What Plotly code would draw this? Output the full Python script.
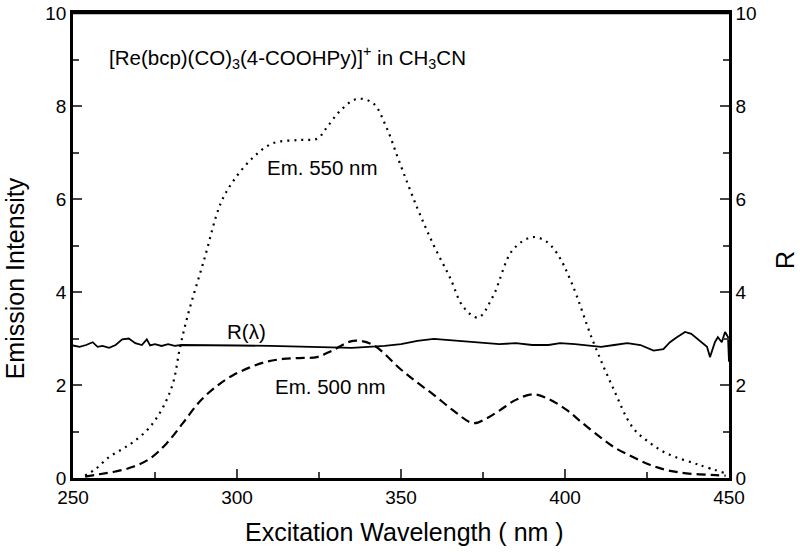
import plotly.graph_objects as go

# Em. 550 nm (dotted)
em550_x = [253.7, 257, 261, 265, 268.5, 273.5, 277.5, 280.5, 282.6, 285, 290, 295, 299, 305, 311, 319,
           324.5, 327.5, 331.5, 336.5, 341.5, 345.5, 349.5, 355, 360, 365, 369, 373.5, 378, 384, 390,
           394, 397.5, 402, 408.5, 414.5, 420.5, 425, 431, 441, 449]
em550_y = [0.05, 0.2, 0.45, 0.62, 0.78, 1.1, 1.53, 2.04, 2.8, 3.5, 4.7, 5.9, 6.4, 6.9, 7.2, 7.27,
           7.3, 7.55, 7.9, 8.15, 8.06, 7.55, 6.8, 5.8, 5.0, 4.3, 3.68, 3.45, 3.9, 4.9, 5.18,
           5.1, 4.84, 4.2, 2.95, 1.96, 1.1, 0.8, 0.53, 0.28, 0.1]

# Em. 500 nm (dashed)
em500_x = [253.7, 258, 263, 268.3, 273.5, 278.6, 283.5, 288.7, 293.9, 298.8, 304, 309, 314, 319, 324.4,
           329.3, 335.4, 341.5, 349.7, 355, 359.8, 366, 372, 376, 380.2, 385, 390.2, 395, 400.6, 405,
           410.7, 415, 420.7, 426, 431, 437, 446, 449]
em500_y = [0.03, 0.08, 0.14, 0.24, 0.42, 0.75, 1.18, 1.65, 1.98, 2.21, 2.38, 2.5, 2.56, 2.58, 2.6,
           2.75, 2.95, 2.86, 2.35, 2.05, 1.8, 1.45, 1.18, 1.28, 1.46, 1.68, 1.8, 1.7, 1.46, 1.2,
           0.88, 0.66, 0.45, 0.28, 0.17, 0.1, 0.06, 0.05]

# R(lambda) (solid, right axis)
r_x = [250, 252, 254, 256, 257.5, 259, 261, 263, 265, 267, 269, 271, 272.5, 273.5, 275, 277, 279, 281,
       283, 290, 300, 310, 320, 330, 335, 340, 345, 350, 355, 360, 365, 370, 375, 380, 385, 390, 395,
       398.5, 403, 408, 411, 415, 419, 423, 427, 430, 432, 434, 436.6, 438.5, 440.2, 442, 443.3, 444.2,
       445, 445.7, 446.6, 447.3, 447.8, 448.8, 449.3, 449.7, 450]
r_y = [2.85, 2.82, 2.86, 2.92, 2.82, 2.84, 2.8, 2.86, 2.98, 3.0, 2.9, 2.86, 2.98, 2.85, 2.88, 2.84, 2.88, 2.84,
       2.86, 2.86, 2.85, 2.84, 2.82, 2.8, 2.8, 2.82, 2.84, 2.88, 2.95, 2.99, 2.96, 2.93, 2.9, 2.88, 2.9, 2.86, 2.86,
       2.9, 2.88, 2.84, 2.82, 2.86, 2.9, 2.86, 2.74, 2.77, 2.92, 3.02, 3.14, 3.1, 3.0, 2.9, 2.82, 2.6,
       2.75, 2.92, 3.03, 2.95, 2.92, 3.14, 3.08, 3.03, 2.5]

x_ticks = [250, 300, 350, 400, 450]
y_ticks = [0, 2, 4, 6, 8, 10]

FONT = "Liberation Sans, Arial, sans-serif"

fig = go.Figure()
fig.add_trace(go.Scatter(x=em550_x, y=em550_y, mode="lines", line=dict(color="black", width=2.2, dash="2px,5px", shape="spline"), showlegend=False))
fig.add_trace(go.Scatter(x=em500_x, y=em500_y, mode="lines", line=dict(color="black", width=2.2, dash="9px,5px", shape="spline"), showlegend=False))
fig.add_trace(go.Scatter(x=r_x, y=r_y, mode="lines", yaxis="y2", line=dict(color="black", width=1.8), showlegend=False))

annos = [
    dict(x=261.3, y=9.05, xanchor="left", text="[Re(bcp)(CO)<sub>3</sub>(4-COOHPy)]<sup>+</sup> in CH<sub>3</sub>CN", size=20.5),
    dict(x=326.2, y=6.67, xanchor="center", text="Em. 550 nm", size=20.5),
    dict(x=303, y=3.14, xanchor="center", text="R(λ)", size=20.5),
    dict(x=328.4, y=1.96, xanchor="center", text="Em. 500 nm", size=20.5),
]
for a in annos:
    fig.add_annotation(x=a["x"], y=a["y"], xref="x", yref="y", text=a["text"], showarrow=False,
                       xanchor=a["xanchor"], yanchor="middle", borderpad=0, xshift=-2 if a["xanchor"] == "left" else 0,
                       font=dict(family=FONT, size=a["size"], color="black"))

# axis titles placed as annotations (paper coords) to match the reference's off-centre placement
titles = [
    dict(x=-0.088, y=0.43, text="Emission Intensity", angle=-90),
    dict(x=1.0854, y=0.469, text="R", angle=-90),
    dict(x=0.506, y=-0.116, text="Excitation Wavelength ( nm )", angle=0),
]
for t in titles:
    fig.add_annotation(x=t["x"], y=t["y"], xref="paper", yref="paper", text=t["text"], showarrow=False,
                       textangle=t["angle"], xanchor="center", yanchor="middle", borderpad=0,
                       font=dict(family=FONT, size=25, color="black"))

# top frame line
fig.add_shape(type="line", xref="paper", yref="paper", x0=0, x1=1, y0=1, y1=1,
              line=dict(color="black", width=2.5), layer="above")

common_y = dict(range=[0, 10], tickvals=y_ticks, ticks="inside", ticklen=9, tickwidth=2,
                minor=dict(tickvals=[1, 3, 5, 7, 9], ticks="inside", ticklen=6, tickwidth=2),
                showline=True, linewidth=2.5, linecolor="black", showgrid=False, zeroline=False,
                automargin=False, ticklabeloverflow="allow", tickfont=dict(size=19))

fig.update_layout(
    width=800, height=552,
    margin=dict(l=73, r=71, t=13, b=74),
    paper_bgcolor="white", plot_bgcolor="white",
    font=dict(family=FONT, color="black"),
    xaxis=dict(range=[250, 450], tickvals=x_ticks, ticks="inside", ticklen=9, tickwidth=2,
               minor=dict(tickvals=[275, 325, 375, 425], ticks="inside", ticklen=6, tickwidth=2),
               showline=True, linewidth=2.5, linecolor="black", mirror=True, showgrid=False, zeroline=False,
               automargin=False, ticklabeloverflow="allow", tickfont=dict(size=19)),
    yaxis=dict(**common_y),
    yaxis2=dict(**common_y, overlaying="y", side="right"),
)

fig.write_html("out.html", config={"displayModeBar": False},
               post_script="document.body.style.margin='0';document.body.style.overflow='hidden';")
